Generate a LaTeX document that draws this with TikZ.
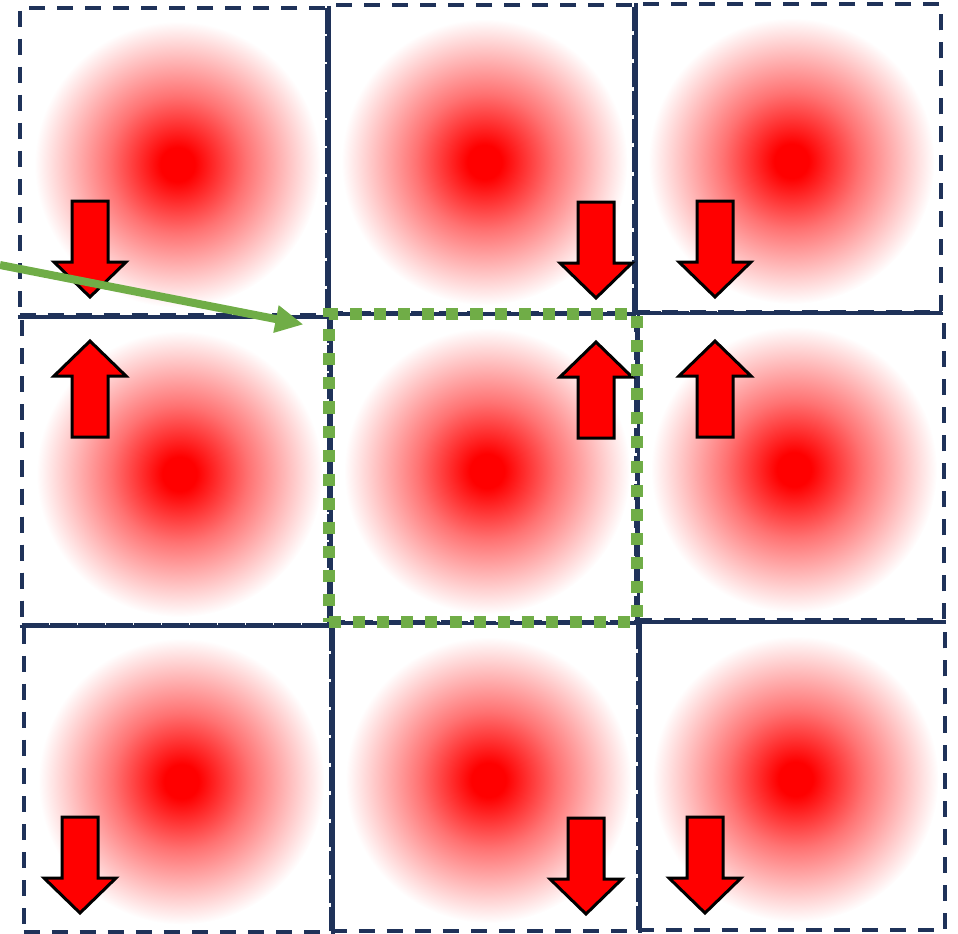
\documentclass[tikz,border=0pt]{standalone}
\usepackage{tikz}
\usetikzlibrary{arrows.meta,positioning,calc}
\definecolor{gridnavy}{RGB}{31,50,89}
\definecolor{markgreen}{RGB}{112,173,71}
\pgfdeclareradialshading{blob}{\pgfpoint{0bp}{0bp}}{color(0bp)=(red); color(3bp)=(red); color(12bp)=(red!55!white); color(25bp)=(white); color(50bp)=(white)}

\begin{document}
\begin{tikzpicture}[x=0.025cm, y=-0.025cm,
    cell/.style={rectangle, draw=gridnavy, line width=0.1cm, dash pattern=on 0.4cm off 0.3cm, minimum width=7.675cm, minimum height=7.675cm, inner sep=0pt},
    gridline/.style={draw=gridnavy, line width=0.09cm},
    focus/.style={rectangle, draw=markgreen, line width=0.3cm, dash pattern=on 0.3cm off 0.3cm, minimum width=7.675cm, minimum height=7.675cm, inner sep=0pt},
    pointer/.style={draw=markgreen, line width=0.2cm, -{Triangle[length=0.7cm, width=0.65cm]}},
    blockarrow/.style={fill=red, draw=black, line width=0.075cm, line join=miter},
    dnarrow/.pic={\path[blockarrow] (-18,0) -- (18,0) -- (18,61) -- (36,61) -- (0,96) -- (-36,61) -- (-18,61) -- cycle;},
    uparrow/.pic={\path[blockarrow] (-18,0) -- (18,0) -- (18,-61) -- (36,-61) -- (0,-96) -- (-36,-61) -- (-18,-61) -- cycle;}
]
\useasboundingbox (0,0) rectangle (958,933);

% cells of the lattice
\node[cell] (a) at (173.5,161.5) {};
\node[cell] (b) at (480.5,159) {};
\node[cell] (c) at (787.5,158) {};
\node[cell] (d) at (175.5,471) {};
\node[cell] (e) at (483,468) {};
\node[cell] (f) at (790,466.5) {};
\node[cell] (g) at (177.5,778.5) {};
\node[cell] (h) at (484.5,777) {};
\node[cell] (i) at (791.5,776) {};

% blobs
\foreach \c in {a,b,c,d,e,f,g,h,i}
  \shade[shading=blob] ($(\c.center)+(4,3)$) circle[radius=3.575cm];

% redraw borders over the blobs
\foreach \c in {a,b,c,d,e,f,g,h,i}
  \node[cell] at (\c) {};
\foreach \c in {a,b,d,e,g,h}
  \draw[gridline] (\c.north east) -- (\c.south east);
\foreach \c in {a,b,c,d,e,f}
  \draw[gridline] (\c.south west) -- (\c.south east);

% block arrows
\foreach \p in {(90,201),(596,202),(715,201),(80,817),(586,818),(705,817)}
  \pic at \p {dnarrow};
\foreach \p in {(90,437),(596,438),(715,437)}
  \pic at \p {uparrow};

% selected cell
\node[focus] (sel) at (e) {};
\coordinate (src) at (0,265);
\draw[pointer] (src) -- ($(sel.north west)+(-20,16)$);

\end{tikzpicture}
\end{document}
